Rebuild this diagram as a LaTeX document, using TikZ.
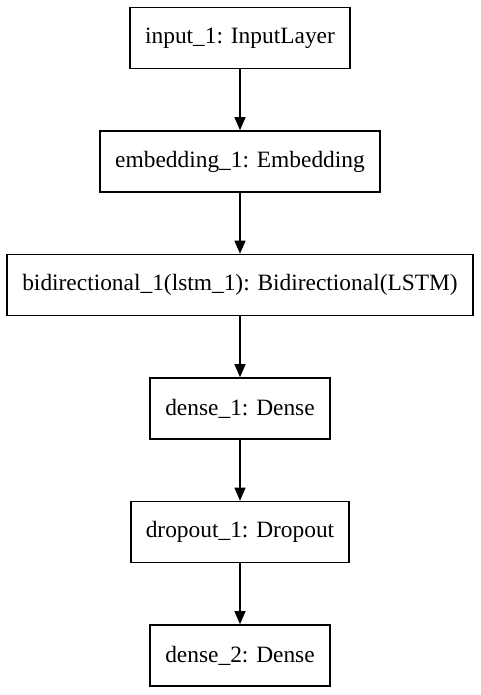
\documentclass[tikz,border=0pt]{standalone}
\usepackage{fontspec}
\setmainfont{Liberation Serif}
\usetikzlibrary{positioning}
\usetikzlibrary{arrows.meta}
\tikzstyle{layer} = [rectangle,
minimum height=61pt,
inner xsep=15pt,
text centered,
draw=black,
line width=1.6pt,
font=\fontsize{23.4}{28}\selectfont]
\tikzstyle{arrow} = [line width=1.3pt,-{Triangle[length=13pt,width=11pt]}]
\begin{document}
\begin{tikzpicture}[node distance=123.5pt]
            \useasboundingbox (0pt,0pt) rectangle (480pt,-695pt);
            \node (input) [layer] at (240pt,-38pt) {input\_1: InputLayer};
            \node (embed) [layer, below of=input] {embedding\_1: Embedding};
            \node (bidir) [layer, below of=embed] {bidirectional\_1(lstm\_1): Bidirectional(LSTM)};
            \node (dense1) [layer, below of=bidir] {dense\_1: Dense};
            \node (drop) [layer, below of=dense1] {dropout\_1: Dropout};
            \node (dense2) [layer, below of=drop] {dense\_2: Dense};

            \draw [arrow] (input) -- (embed);
            \draw [arrow] (embed) -- (bidir);
            \draw [arrow] (bidir) -- (dense1);
            \draw [arrow] (dense1) -- (drop);
            \draw [arrow] (drop) -- (dense2);
        \end{tikzpicture}
\end{document}
